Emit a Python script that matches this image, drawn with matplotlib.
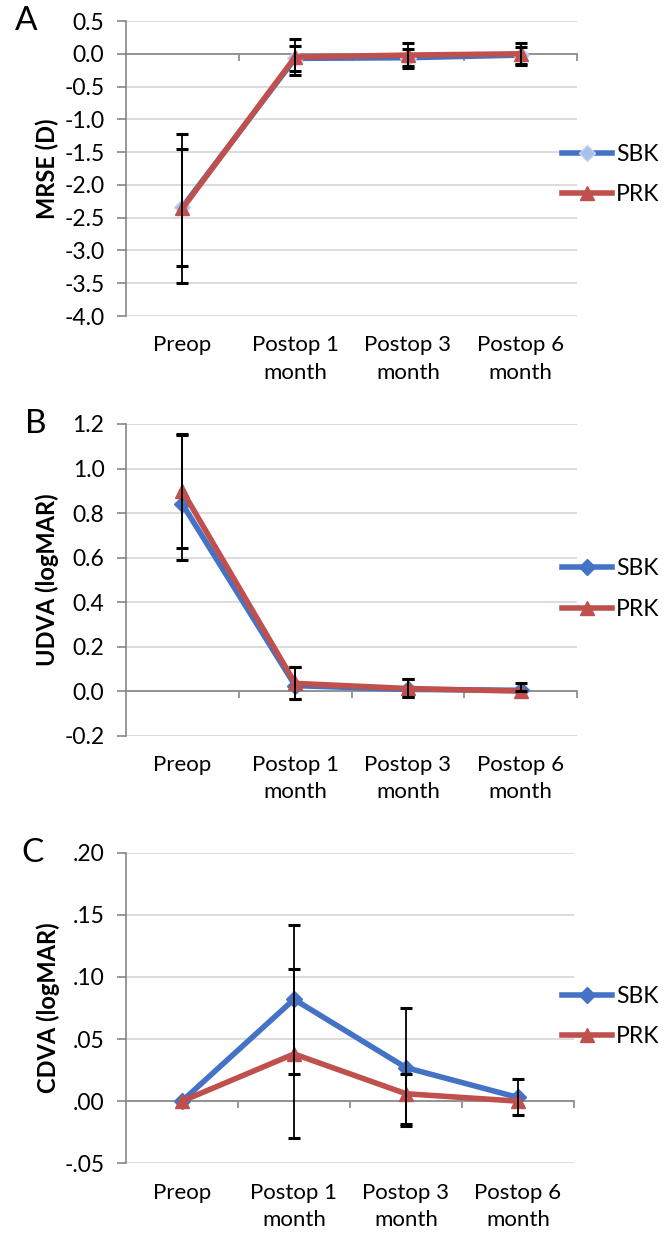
import numpy as np
import matplotlib
matplotlib.use("Agg")
import matplotlib.pyplot as plt
from matplotlib.ticker import FuncFormatter

plt.rcParams['font.family'] = ['Lato', 'DejaVu Sans']
plt.rcParams['axes.unicode_minus'] = False

categories = ['Preop', 'Postop 1\nmonth', 'Postop 3\nmonth', 'Postop 6\nmonth']

# A - MRSE (D)
mrse_sbk = [-2.34, -0.07, -0.06, -0.02]
mrse_sbk_lo = [0.89, 0.19, 0.13, 0.13]
mrse_sbk_hi = [0.89, 0.19, 0.13, 0.13]
mrse_prk = [-2.36, -0.05, -0.02, 0.0]
mrse_prk_lo = [1.14, 0.28, 0.19, 0.17]
mrse_prk_hi = [1.14, 0.28, 0.19, 0.17]

# B - UDVA (logMAR)
udva_sbk = [0.84, 0.025, 0.008, 0.004]
udva_sbk_lo = [0.25, 0.06, 0.033, 0.004]
udva_sbk_hi = [0.31, 0.085, 0.045, 0.031]
udva_prk = [0.90, 0.035, 0.012, 0.0]
udva_prk_lo = [0.255, 0.07, 0.037, 0.0]
udva_prk_hi = [0.255, 0.075, 0.041, 0.0]

# C - CDVA (logMAR)
cdva_sbk = [0.0, 0.082, 0.027, 0.003]
cdva_sbk_lo = [0.0, 0.060, 0.047, 0.0145]
cdva_sbk_hi = [0.0, 0.060, 0.048, 0.0145]
cdva_prk = [0.0, 0.038, 0.006, 0.0]
cdva_prk_lo = [0.0, 0.068, 0.024, 0.0]
cdva_prk_hi = [0.0, 0.068, 0.016, 0.0]

W, H = 666, 1233
BLUE = '#4472C4'
RED = '#C0504D'
GRID = '#D9D9D9'
AXIS = '#868686'

fig = plt.figure(figsize=(W / 100, H / 100), dpi=100)


def rect(top, bottom, left=126, right=577):
    return [left / W, 1 - bottom / H, (right - left) / W, (bottom - top) / H]


def fmt_one(v, pos):
    return '%.1f' % v


def fmt_dot(v, pos):
    s = '%.2f' % v
    return s.replace('0.', '.', 1)


panels = [
    dict(r=rect(21, 316), letter='A', lx=15, ylabel='MRSE (D)', yticks=np.arange(-4.0, 0.51, 0.5),
         fmt=fmt_one, leg_y=174.5, light=True,
         sbk=(mrse_sbk, mrse_sbk_lo, mrse_sbk_hi), prk=(mrse_prk, mrse_prk_lo, mrse_prk_hi)),
    dict(r=rect(424, 735.7), letter='B', lx=25, ylabel='UDVA (logMAR)', yticks=np.arange(-0.2, 1.21, 0.2),
         fmt=fmt_one, leg_y=589, light=False,
         sbk=(udva_sbk, udva_sbk_lo, udva_sbk_hi), prk=(udva_prk, udva_prk_lo, udva_prk_hi)),
    dict(r=rect(852.7, 1163.3, right=574), letter='C', lx=21, ylabel='CDVA (logMAR)',
         yticks=np.arange(-0.05, 0.201, 0.05), fmt=fmt_dot, leg_y=1016.5, light=False,
         sbk=(cdva_sbk, cdva_sbk_lo, cdva_sbk_hi), prk=(cdva_prk, cdva_prk_lo, cdva_prk_hi)),
]

x = np.arange(len(categories))

for p in panels:
    ax = fig.add_axes(p['r'])
    ax.set_xlim(-0.5, len(categories) - 0.5)
    ax.set_ylim(p['yticks'][0], p['yticks'][-1])
    ax.set_yticks(p['yticks'])
    ax.yaxis.set_major_formatter(FuncFormatter(p['fmt']))
    ax.yaxis.grid(True, color=GRID, lw=1.3)
    ax.set_axisbelow(True)
    for s in ['top', 'right']:
        ax.spines[s].set_visible(False)
    ax.spines['left'].set_color(AXIS)
    ax.spines['left'].set_linewidth(1.2)
    ax.spines['bottom'].set_position(('data', 0))
    ax.spines['bottom'].set_color(AXIS)
    ax.spines['bottom'].set_linewidth(1.2)
    ax.set_xticks(x + 0.5)
    ax.set_xticklabels([])
    ax.tick_params(axis='x', length=5, width=1.2, color=AXIS, direction='out')
    ax.tick_params(axis='y', length=6.5, width=1.2, color=AXIS, pad=9, labelsize=16.5)

    sec = ax.secondary_xaxis('bottom')
    sec.set_xticks(x)
    sec.set_xticklabels(categories, fontsize=16, linespacing=1.45)
    sec.tick_params(length=0, pad=14)
    sec.spines['bottom'].set_visible(False)

    ax.set_ylabel(p['ylabel'], fontsize=17, fontweight='bold')
    ax.yaxis.set_label_coords(-0.148, 0.5)

    sy, slo, shi = [np.array(v) for v in p['sbk']]
    py, plo, phi = [np.array(v) for v in p['prk']]
    if p['light']:
        mfc, mec = '#A9C0E8', '#C5D4EF'
    else:
        mfc, mec = BLUE, BLUE
    l1, = ax.plot(x, sy, color=BLUE, lw=4, marker='D', ms=8, mfc=mfc, mec=mec, zorder=3, label='SBK')
    l2, = ax.plot(x, py, color=RED, lw=4, marker='^', ms=10, mfc=RED, mec=RED, zorder=4, label='PRK')

    for yy, lo, hi in [(sy, slo, shi), (py, plo, phi)]:
        k = (lo + hi) > 0
        ax.errorbar(x[k], yy[k], yerr=[lo[k], hi[k]], fmt='none', ecolor='black',
                    elinewidth=1.3, capsize=4, capthick=2.2, zorder=5)

    ax.legend(handles=[l1, l2], loc='center left', bbox_to_anchor=(562 / W, 1 - p['leg_y'] / H),
              bbox_transform=fig.transFigure, frameon=False, borderpad=0, borderaxespad=0,
              handlelength=2.2, handletextpad=0.15, labelspacing=0.85, fontsize=16.5)

    top_px = (1 - p['r'][1] - p['r'][3]) * H
    fig.text(p['lx'] / W, 1 - top_px / H, p['letter'], fontsize=24, ha='left', va='center')

fig.savefig('out.png', dpi=100)
